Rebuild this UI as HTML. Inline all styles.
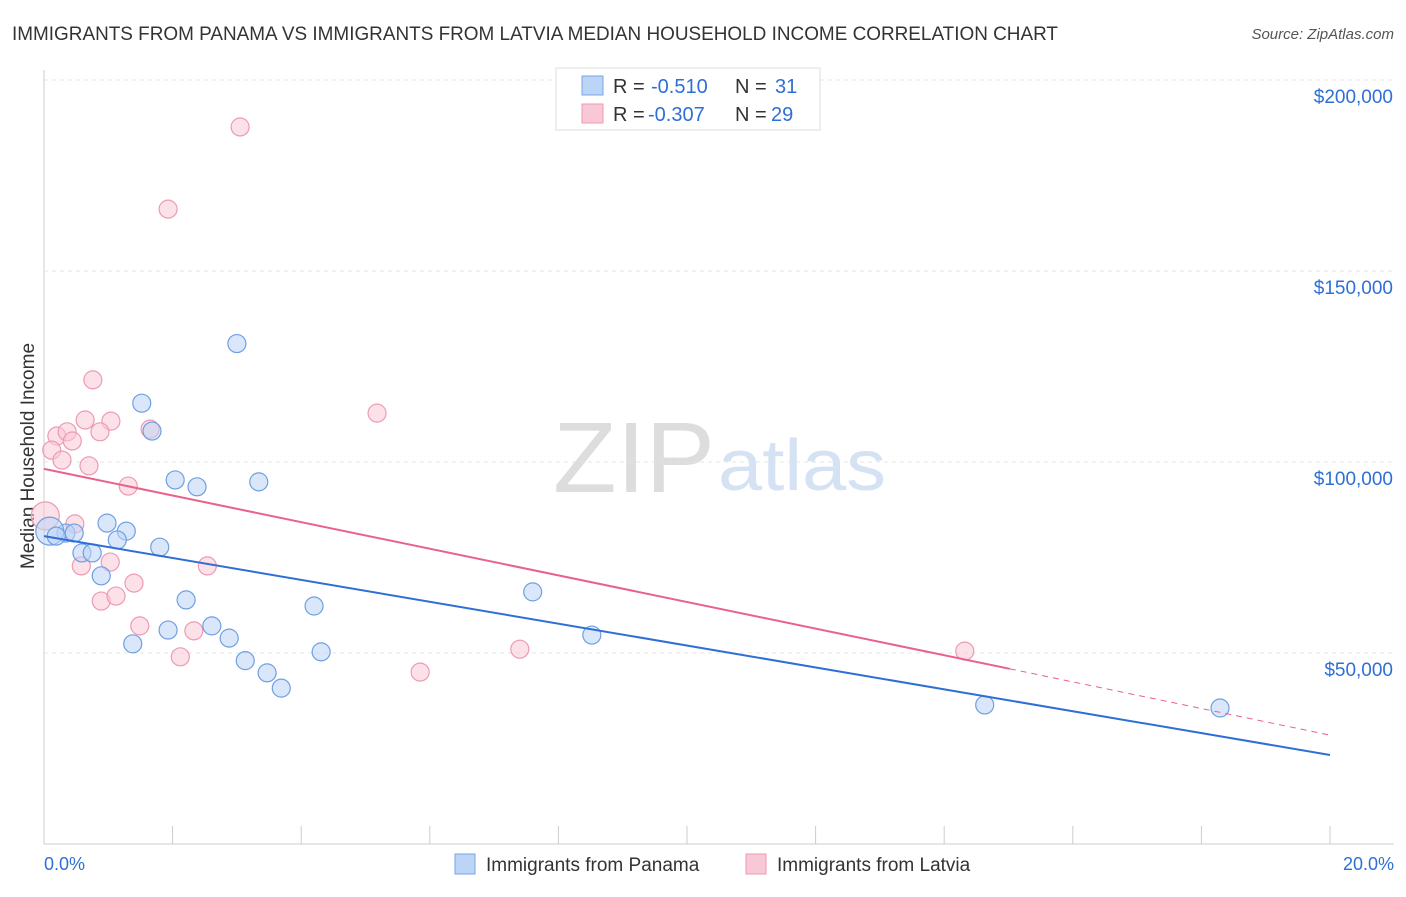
<!DOCTYPE html>
<html><head><meta charset="utf-8"><style>
body{margin:0;background:#fff;font-family:"Liberation Sans",sans-serif;}
svg text{font-family:"Liberation Sans",sans-serif;}
</style></head><body>
<svg id="c" width="1406" height="892">
<text x="12" y="40" font-size="19" fill="#333" textLength="1046" lengthAdjust="spacingAndGlyphs">IMMIGRANTS FROM PANAMA VS IMMIGRANTS FROM LATVIA MEDIAN HOUSEHOLD INCOME CORRELATION CHART</text>
<text x="1394" y="39" font-size="15" fill="#555" text-anchor="end" font-style="italic">Source: ZipAtlas.com</text>
<text x="553" y="492" font-size="100" fill="#ddd" font-family="Liberation Serif" textLength="162" lengthAdjust="spacingAndGlyphs">ZIP</text>
<text x="718" y="490" font-size="72" fill="#d4e2f4" textLength="168" lengthAdjust="spacingAndGlyphs">atlas</text>
<text transform="translate(34,456) rotate(-90)" font-size="19" fill="#333" text-anchor="middle">Median Household Income</text>
<g id="grid"></g><g id="pts"></g><g id="lines"></g>
<g>
<rect x="556" y="68" width="264" height="62" fill="#fff" stroke="#ddd"/>
<rect x="582" y="76" width="21" height="19" fill="#bcd4f6" stroke="#7aa6e6"/>
<rect x="582" y="104" width="21" height="19" fill="#f9c8d6" stroke="#ee9ab3"/>
<text x="613" y="93" font-size="20" fill="#333">R =</text><text x="651" y="93" font-size="20" fill="#2e6fd6">-0.510</text>
<text x="735" y="93" font-size="20" fill="#333">N =</text><text x="775" y="93" font-size="20" fill="#2e6fd6">31</text>
<text x="613" y="121" font-size="20" fill="#333">R =</text><text x="648" y="121" font-size="20" fill="#2e6fd6">-0.307</text>
<text x="735" y="121" font-size="20" fill="#333">N =</text><text x="771" y="121" font-size="20" fill="#2e6fd6">29</text>
</g>
<g>
<rect x="455" y="854" width="20" height="20" fill="#bcd4f6" stroke="#7aa6e6"/>
<text x="486" y="871" font-size="19" fill="#333">Immigrants from Panama</text>
<rect x="746" y="854" width="20" height="20" fill="#f9c8d6" stroke="#ee9ab3"/>
<text x="777" y="871" font-size="19" fill="#333">Immigrants from Latvia</text>
</g>
<text x="44" y="870" font-size="18" fill="#2e6fd6">0.0%</text>
<text x="1394" y="870" font-size="18" fill="#2e6fd6" text-anchor="end">20.0%</text>
</svg>
<script>
const yTicks=[50000,100000,150000,200000];
const yTickLabels=["$50,000","$100,000","$150,000","$200,000"];
const xTicks=[0,2,4,6,8,10,12,14,16,18,20];
const panamaX=[3.00,1.52,1.68,2.04,2.38,3.34,0.98,1.28,1.14,1.80,0.59,0.75,0.34,0.47,0.09,0.19,0.89,2.21,1.93,2.61,2.88,1.38,3.13,3.47,3.69,4.20,4.31,7.60,8.52,14.63,18.29];
const panamaY=[131000,115400,108100,95300,93500,94800,84000,81900,79600,77700,76200,76200,81400,81400,81900,80600,70200,63900,56000,57100,53900,52400,48000,44800,40800,62300,50300,66000,54700,36400,35600];
const latviaX=[3.05,1.93,0.76,5.18,0.64,1.04,0.20,0.36,0.87,0.44,0.12,0.28,0.70,1.65,1.31,0.02,0.48,0.58,1.03,1.40,2.54,0.89,1.12,1.49,2.33,2.12,5.85,7.40,14.32];
const latviaY=[187700,166200,121500,112800,111000,110700,106800,107900,107900,105500,103100,100500,99000,108600,93700,85900,83800,72800,73800,68300,72800,63600,64900,57100,55800,49000,45000,51000,50500];
const panamaTrend=[80600,23300];
const latviaTrend=[98200,28500];
const latviaSolidEnd=15.02;
const X=v=>44+v/20*1286, Y=v=>844-v/50000*191;
const NS="http://www.w3.org/2000/svg";
function mk(t,a,p){const e=document.createElementNS(NS,t);for(const k in a)e.setAttribute(k,a[k]);p.appendChild(e);return e;}
const g=document.getElementById('grid');
mk('line',{x1:44,y1:70,x2:44,y2:844,stroke:'#ccc'},g);
mk('line',{x1:44,y1:844,x2:1394,y2:844,stroke:'#ccc'},g);
yTicks.forEach((v,i)=>{
 const l=mk('line',{x1:44,y1:Y(v),x2:1394,y2:Y(v),stroke:'#e4e4e4','stroke-dasharray':'4,4'},g);
 
 
 const t=mk('text',{x:1393,y:Y(v)+23,'font-size':19,fill:'#2e6fd6','text-anchor':'end'},g);
 t.textContent=yTickLabels[i];
 
 
});
xTicks.forEach(v=>{
 const l=mk('line',{x1:X(v),y1:826,x2:X(v),y2:844,stroke:'#ccc'},g);
 
 
});
const p=document.getElementById('pts');
function dots(xs,ys,f,s,name){xs.forEach((x,i)=>{
 const big=x<0.1;
 const c=mk('circle',{cx:X(x),cy:Y(ys[i]),r:big?14:9,fill:f,'fill-opacity':0.55,stroke:s,'stroke-width':1.2},p);
 
 
});}
dots(latviaX,latviaY,'#f9c8d6','#ee9ab3','latvia-point');
dots(panamaX,panamaY,'#bcd4f6','#6f9fe2','panama-point');
const L=document.getElementById('lines');
const bl=mk('line',{x1:X(0),y1:Y(panamaTrend[0]),x2:X(20),y2:Y(panamaTrend[1]),stroke:'#2e6fd6','stroke-width':2},L);


const ly=x=>latviaTrend[0]+(latviaTrend[1]-latviaTrend[0])*x/20;
const pl=mk('line',{x1:X(0),y1:Y(ly(0)),x2:X(latviaSolidEnd),y2:Y(ly(latviaSolidEnd)),stroke:'#e8628c','stroke-width':2},L);


const pd=mk('line',{x1:X(latviaSolidEnd),y1:Y(ly(latviaSolidEnd)),x2:X(20),y2:Y(ly(20)),stroke:'#e8628c','stroke-width':1,'stroke-dasharray':'6,5'},L);


</script>
</body></html>
